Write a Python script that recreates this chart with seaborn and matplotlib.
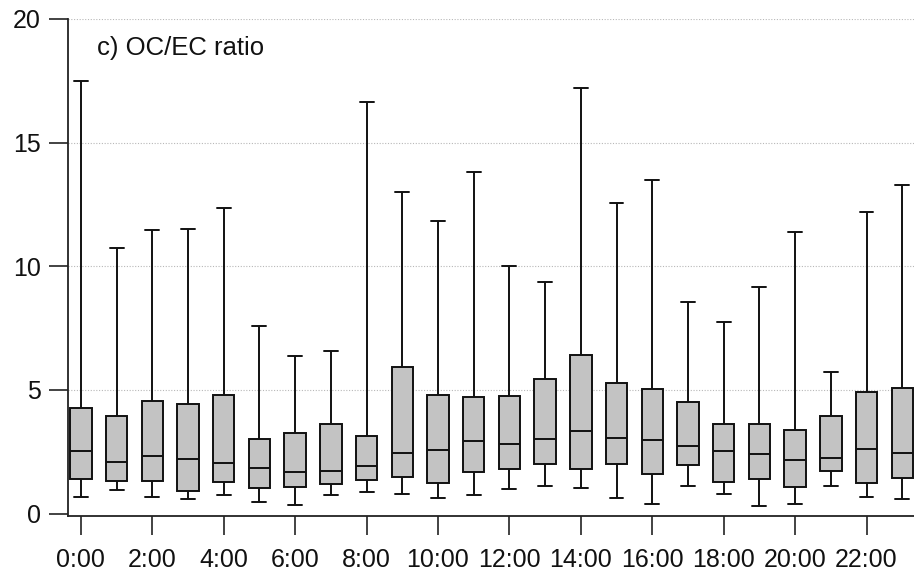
import numpy as np
import pandas as pd
import matplotlib
matplotlib.use("Agg")
import matplotlib.pyplot as plt
import seaborn as sns

# Hourly OC/EC ratio statistics (whiskers span min to max)
hours = list(range(24))
ratio_min = [0.67, 0.97, 0.65, 0.57, 0.73, 0.47, 0.35, 0.73, 0.86, 0.81, 0.63, 0.73,
             0.98, 1.10, 1.04, 0.62, 0.38, 1.13, 0.80, 0.30, 0.39, 1.10, 0.65, 0.58]
ratio_q1 = [1.41, 1.32, 1.32, 0.93, 1.27, 1.02, 1.08, 1.20, 1.36, 1.47, 1.25, 1.66,
            1.79, 2.01, 1.79, 2.01, 1.59, 1.97, 1.29, 1.39, 1.08, 1.70, 1.25, 1.43]
ratio_median = [2.52, 2.09, 2.34, 2.21, 2.03, 1.83, 1.66, 1.74, 1.93, 2.44, 2.57, 2.94,
                2.82, 3.03, 3.33, 3.04, 2.96, 2.75, 2.53, 2.42, 2.15, 2.24, 2.60, 2.44]
ratio_q3 = [4.28, 3.95, 4.57, 4.44, 4.81, 3.00, 3.25, 3.64, 3.14, 5.94, 4.78, 4.71,
            4.77, 5.43, 6.42, 5.27, 5.02, 4.53, 3.64, 3.64, 3.38, 3.93, 4.92, 5.06]
ratio_max = [17.48, 10.73, 11.47, 11.52, 12.35, 7.60, 6.38, 6.56, 16.63, 13.00, 11.84, 13.83,
             10.00, 9.36, 17.20, 12.57, 13.50, 8.55, 7.76, 9.18, 11.38, 5.71, 12.21, 13.27]
tick_hours = list(range(0, 24, 2))
tick_labels = [f"{h}:00" for h in tick_hours]

# Five points per hour reproduce the quartiles exactly with linear percentiles
rows = []
for h, a, b, c, d, e in zip(hours, ratio_min, ratio_q1, ratio_median, ratio_q3, ratio_max):
    for v in (a, b, c, d, e):
        rows.append({"hour": h, "ratio": v})
df = pd.DataFrame(rows)

sns.set_style("white")
plt.rcParams["font.family"] = ["Liberation Sans", "DejaVu Sans"]

fig = plt.figure(figsize=(9.14, 5.75), dpi=100)
ax = fig.add_axes([0.0744, 0.1026, 0.9256, 0.8644])

ax.set_axisbelow(True)
for yv in (5, 10, 15, 20):
    ax.axhline(yv, color="#b8b8b8", lw=0.8, ls=(0, (1, 1.5)), zorder=0)

sns.boxplot(data=df, x="hour", y="ratio", order=hours, whis=(0, 100),
            width=0.6, color="#c3c3c3", linecolor="#111111", linewidth=1.4,
            saturation=1, showfliers=False, capwidths=0.39, ax=ax)

ax.set_xlim(-0.36, 23.33)
ax.set_ylim(-0.1, 20)
ax.set_yticks([0, 5, 10, 15, 20])
ax.set_xticks(tick_hours)
ax.set_xticklabels(tick_labels)
ax.set_xlabel("")
ax.set_ylabel("")

for side in ("top", "right"):
    ax.spines[side].set_visible(False)
for side in ("left", "bottom"):
    ax.spines[side].set_color("#222222")
    ax.spines[side].set_linewidth(1.3)
ax.spines["left"].set_bounds(-0.1, 20)

ax.tick_params(axis="both", which="major", direction="out", length=13.5, width=1.2,
               color="#222222", labelsize=18, labelcolor="#111111", left=True, bottom=True)
ax.tick_params(axis="y", pad=6)
ax.tick_params(axis="x", pad=9.5)

ax.text(0.034, 0.928, "c) OC/EC ratio", transform=ax.transAxes, fontsize=18.5,
        color="#111111", ha="left", va="baseline")

fig.savefig("out.png", dpi=100)
